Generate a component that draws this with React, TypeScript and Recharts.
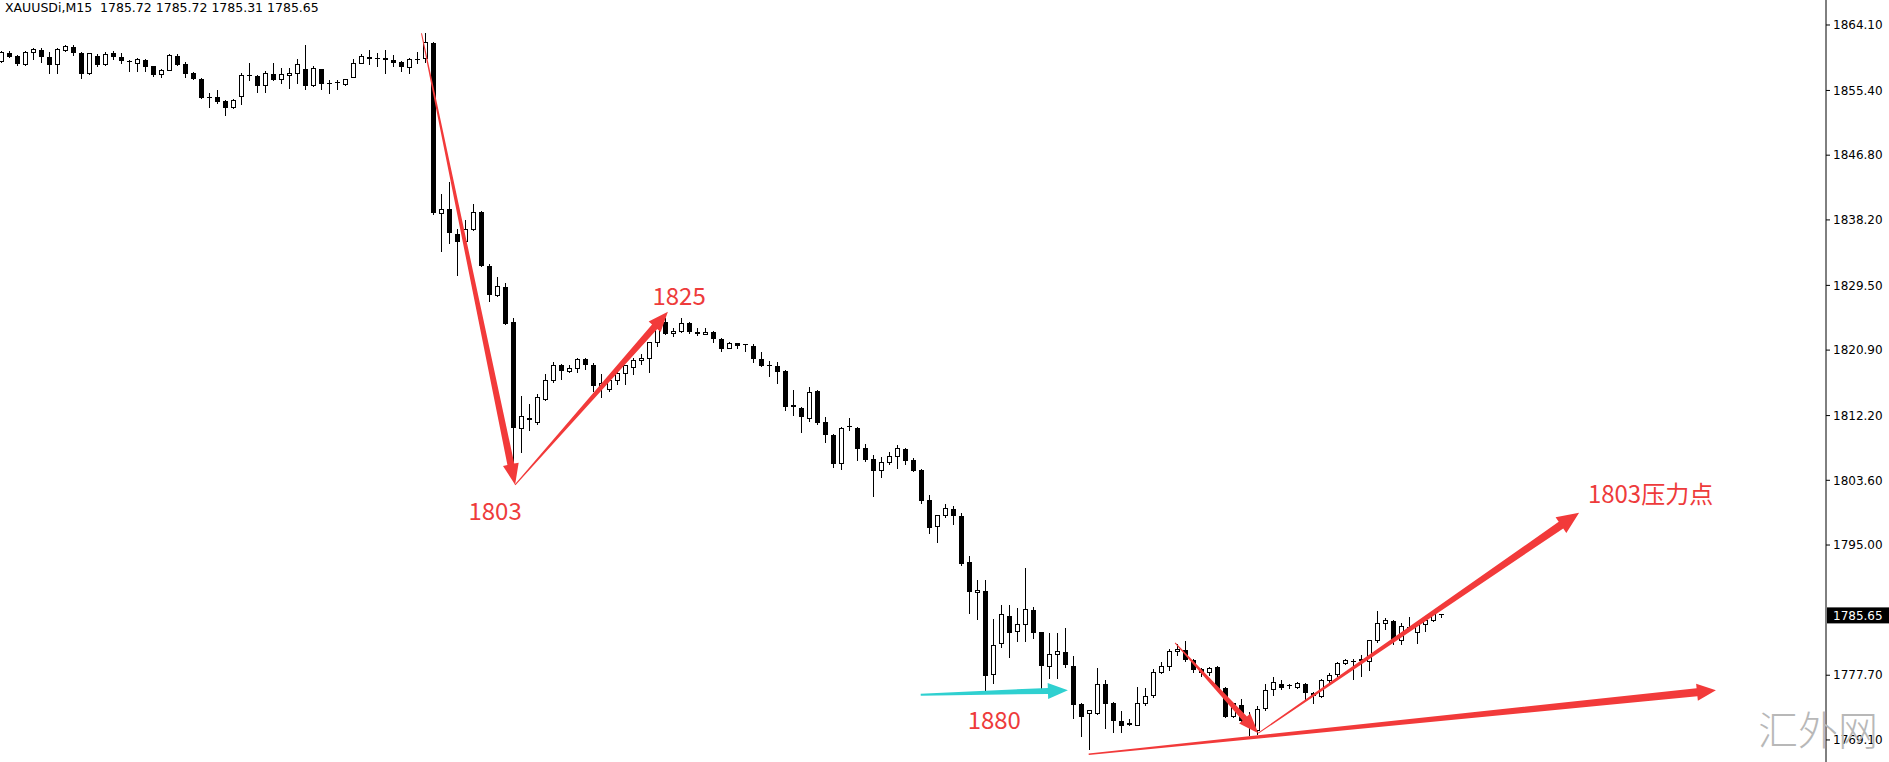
import { ComposedChart, Bar, XAxis, YAxis, ReferenceLine, ReferenceDot } from 'recharts';

// XAUUSDi M15 candles (one row = 10 bars)
const opens = [
  1859.2, 1860.4, 1860.0, 1858.9, 1860.4, 1860.8, 1859.9, 1858.8, 1860.7, 1861.2,
  1860.4, 1857.6, 1860.0, 1858.8, 1860.4, 1859.9, 1859.3, 1859.0, 1859.5, 1858.6,
  1857.5, 1858.1, 1860.0, 1858.9, 1857.7, 1856.9, 1854.4, 1854.5, 1854.0, 1853.1,
  1854.6, 1857.3, 1857.3, 1856.1, 1857.6, 1856.9, 1857.4, 1857.7, 1858.3, 1856.0,
  1858.2, 1856.3, 1856.3, 1856.2, 1857.1, 1859.0, 1859.6, 1859.5, 1859.7, 1859.5,
  1859.2, 1858.5, 1859.4, 1859.6, 1861.7, 1839.1, 1839.6, 1836.3, 1835.3, 1836.9,
  1839.2, 1832.1, 1828.2, 1829.3, 1824.7, 1810.5, 1811.9, 1811.3, 1814.4, 1816.9,
  1818.9, 1818.1, 1818.5, 1819.7, 1818.9, 1816.1, 1815.7, 1816.9, 1817.8, 1818.6,
  1819.5, 1819.8, 1821.9, 1824.7, 1823.1, 1823.4, 1824.5, 1823.3, 1823.0, 1823.3,
  1822.4, 1821.1, 1821.8, 1821.5, 1821.5, 1819.7, 1818.8, 1818.8, 1818.1, 1813.6,
  1813.2, 1811.8, 1815.4, 1811.3, 1809.6, 1805.8, 1810.6, 1810.5, 1807.9, 1806.4,
  1804.9, 1805.9, 1806.8, 1807.8, 1806.3, 1805.0, 1801.0, 1797.4, 1798.9, 1799.8,
  1798.9, 1792.7, 1788.7, 1788.9, 1777.8, 1781.9, 1785.6, 1783.5, 1784.5, 1786.4,
  1783.4, 1778.8, 1780.5, 1780.8, 1778.9, 1773.9, 1772.6, 1772.6, 1776.6, 1774.0,
  1771.6, 1771.1, 1771.0, 1774.0, 1775.0, 1778.0, 1778.9, 1780.8, 1781.1, 1779.7,
  1778.5, 1778.0, 1778.8, 1776.0, 1772.2, 1773.8, 1771.2, 1770.3, 1773.3, 1775.8,
  1776.6, 1776.2, 1776.1, 1776.5, 1775.4, 1774.9, 1777.0, 1777.8, 1779.2, 1779.4,
  1779.6, 1779.5, 1782.3, 1784.6, 1784.9, 1782.3, 1784.0, 1783.4, 1784.5, 1785.0, 1785.72,
];

const highs = [
  1860.6, 1860.6, 1860.1, 1860.6, 1861.0, 1861.0, 1860.5, 1861.0, 1861.5, 1861.4,
  1860.5, 1860.4, 1860.2, 1860.5, 1860.6, 1860.4, 1859.5, 1859.7, 1859.6, 1858.7,
  1858.2, 1860.2, 1860.2, 1859.2, 1857.8, 1857.0, 1855.0, 1855.4, 1854.1, 1854.3,
  1857.7, 1859.1, 1857.4, 1858.0, 1859.1, 1858.4, 1858.4, 1859.6, 1861.5, 1858.6,
  1858.3, 1856.8, 1856.8, 1856.9, 1859.6, 1860.2, 1860.8, 1860.4, 1860.8, 1860.1,
  1859.3, 1859.7, 1860.5, 1863.0, 1861.9, 1841.6, 1843.2, 1837.0, 1838.2, 1840.3,
  1839.4, 1832.3, 1830.6, 1829.8, 1825.1, 1814.8, 1813.8, 1815.1, 1817.7, 1819.3,
  1819.1, 1818.9, 1819.9, 1819.9, 1819.2, 1817.7, 1817.1, 1818.0, 1818.9, 1819.8,
  1820.4, 1822.0, 1825.0, 1825.1, 1823.8, 1825.1, 1824.7, 1823.8, 1823.9, 1823.5,
  1822.5, 1822.0, 1821.9, 1821.7, 1821.7, 1820.6, 1819.5, 1819.3, 1818.2, 1815.6,
  1813.3, 1816.0, 1815.6, 1812.0, 1809.7, 1810.7, 1811.9, 1810.7, 1808.4, 1807.0,
  1806.7, 1807.4, 1808.3, 1807.9, 1806.6, 1805.1, 1801.7, 1799.0, 1800.4, 1800.2,
  1799.3, 1793.6, 1790.4, 1790.3, 1785.2, 1787.0, 1787.0, 1786.6, 1791.9, 1786.8,
  1783.5, 1783.3, 1783.3, 1784.0, 1780.3, 1774.0, 1773.0, 1778.6, 1777.0, 1774.1,
  1773.0, 1771.9, 1776.1, 1776.0, 1778.5, 1779.5, 1781.2, 1781.9, 1782.3, 1779.8,
  1778.6, 1778.8, 1778.9, 1776.2, 1774.0, 1774.6, 1772.8, 1773.6, 1776.5, 1777.4,
  1777.0, 1776.5, 1776.8, 1776.7, 1775.5, 1777.2, 1778.0, 1779.5, 1779.8, 1779.9,
  1780.4, 1782.4, 1786.2, 1785.3, 1785.1, 1784.6, 1785.4, 1784.8, 1785.2, 1786.2, 1785.72,
];

const lows = [
  1859.0, 1859.7, 1858.7, 1858.7, 1859.5, 1859.0, 1857.6, 1857.6, 1860.5, 1860.0,
  1856.9, 1857.5, 1858.5, 1858.6, 1859.5, 1858.9, 1857.9, 1857.9, 1857.9, 1857.2,
  1857.0, 1858.0, 1858.6, 1857.0, 1856.8, 1854.2, 1853.1, 1853.6, 1852.0, 1853.0,
  1853.5, 1856.7, 1855.1, 1855.0, 1856.7, 1856.2, 1855.6, 1856.3, 1855.5, 1855.8,
  1855.5, 1854.9, 1855.4, 1856.0, 1857.0, 1858.9, 1858.8, 1858.5, 1857.6, 1858.5,
  1857.9, 1857.6, 1858.9, 1859.1, 1838.9, 1833.9, 1835.0, 1830.8, 1834.5, 1836.7,
  1832.0, 1827.3, 1828.0, 1824.2, 1805.2, 1807.2, 1810.1, 1811.0, 1814.2, 1816.5,
  1816.9, 1817.8, 1817.9, 1818.2, 1815.3, 1814.6, 1815.3, 1816.2, 1816.2, 1817.6,
  1818.9, 1817.8, 1821.3, 1822.9, 1822.6, 1823.2, 1823.0, 1822.8, 1822.9, 1821.9,
  1820.7, 1821.0, 1821.1, 1820.6, 1819.2, 1818.7, 1817.3, 1816.4, 1812.8, 1812.2,
  1809.9, 1811.4, 1810.9, 1808.5, 1805.2, 1805.0, 1810.1, 1806.2, 1806.0, 1801.4,
  1803.9, 1805.7, 1805.1, 1805.6, 1804.7, 1800.5, 1796.4, 1795.3, 1798.6, 1797.7,
  1792.2, 1785.9, 1785.1, 1775.5, 1776.5, 1781.3, 1780.0, 1782.1, 1782.1, 1782.5,
  1775.3, 1777.2, 1777.2, 1778.6, 1771.9, 1769.5, 1767.7, 1772.4, 1770.5, 1770.0,
  1770.0, 1770.9, 1770.9, 1773.6, 1774.7, 1777.9, 1778.3, 1780.3, 1779.5, 1778.0,
  1777.5, 1777.6, 1775.6, 1772.0, 1772.0, 1771.2, 1769.6, 1769.8, 1773.0, 1775.0,
  1775.8, 1775.9, 1775.9, 1774.4, 1773.9, 1774.7, 1776.4, 1777.4, 1779.0, 1777.0,
  1777.5, 1778.2, 1782.0, 1783.7, 1781.7, 1781.7, 1783.6, 1781.9, 1783.5, 1784.8, 1785.31,
];

const closes = [
  1860.4, 1859.9, 1858.9, 1860.4, 1860.8, 1859.8, 1858.8, 1860.8, 1861.2, 1860.4,
  1857.6, 1860.3, 1858.8, 1860.2, 1859.8, 1859.3, 1859.2, 1859.5, 1858.5, 1857.5,
  1858.1, 1860.0, 1858.8, 1857.6, 1856.9, 1854.4, 1854.5, 1853.9, 1853.1, 1854.1,
  1857.4, 1857.4, 1856.0, 1857.7, 1856.8, 1857.5, 1857.6, 1858.9, 1856.0, 1858.3,
  1856.2, 1856.3, 1856.4, 1856.8, 1859.0, 1859.9, 1859.8, 1859.6, 1859.5, 1859.0,
  1858.5, 1859.5, 1859.5, 1861.8, 1839.1, 1839.6, 1836.4, 1835.3, 1836.9, 1839.2,
  1832.1, 1828.2, 1829.3, 1824.4, 1810.5, 1812.1, 1811.6, 1814.6, 1816.9, 1818.9,
  1818.1, 1818.5, 1819.7, 1818.9, 1816.1, 1816.5, 1816.9, 1817.8, 1818.8, 1819.5,
  1819.8, 1821.9, 1824.4, 1823.1, 1823.4, 1824.4, 1823.3, 1823.0, 1823.3, 1822.4,
  1821.1, 1821.8, 1821.5, 1821.6, 1819.7, 1818.8, 1818.9, 1818.0, 1813.4, 1813.3,
  1812.0, 1815.3, 1811.2, 1809.6, 1805.8, 1810.5, 1810.7, 1807.7, 1806.3, 1804.8,
  1805.9, 1806.8, 1807.8, 1806.2, 1804.9, 1800.8, 1797.3, 1798.9, 1799.8, 1798.9,
  1792.5, 1788.7, 1789.0, 1777.6, 1781.7, 1785.8, 1783.3, 1784.5, 1786.4, 1783.3,
  1778.9, 1780.5, 1780.8, 1779.1, 1773.8, 1772.1, 1773.0, 1776.5, 1773.9, 1771.6,
  1771.0, 1771.3, 1774.0, 1774.9, 1778.0, 1778.9, 1780.8, 1781.1, 1779.7, 1778.4,
  1778.0, 1778.6, 1775.9, 1772.2, 1773.9, 1771.6, 1771.3, 1773.2, 1775.7, 1776.7,
  1776.0, 1776.3, 1776.6, 1775.4, 1774.9, 1777.0, 1777.7, 1779.2, 1779.6, 1779.5,
  1779.8, 1782.3, 1784.6, 1785.0, 1782.3, 1784.2, 1784.1, 1784.5, 1785.0, 1785.9, 1785.65,
];

const priceTicks = [1864.1, 1855.4, 1846.8, 1838.2, 1829.5, 1820.9, 1812.2, 1803.6, 1795.0, 1777.7, 1769.1];
const lastPrice = 1785.65;

// hand-drawn annotations, in (bar index, price)
const arrows = [
  { from: [52.5, 1863.0], to: [64.2, 1803.0], color: '#f23a3a', w0: 1, w1: 7, headW: 16, headL: 21 },
  { from: [64.2, 1803.0], to: [83.3, 1826.0], color: '#f23a3a', w0: 1, w1: 7, headW: 16, headL: 20 },
  { from: [114.9, 1775.1], to: [133.3, 1775.7], color: '#2fd0d0', w0: 2, w1: 6, headW: 16, headL: 20 },
  { from: [146.7, 1782.0], to: [157.1, 1770.0], color: '#f23a3a', w0: 1, w1: 6, headW: 15, headL: 20 },
  { from: [157.1, 1770.0], to: [197.2, 1799.3], color: '#f23a3a', w0: 1, w1: 8, headW: 19, headL: 22 },
  { from: [135.9, 1767.2], to: [214.3, 1775.7], color: '#f23a3a', w0: 1.5, w1: 8, headW: 17, headL: 19 },
];

const notes = [
  { i: 61.7, v: 1798.3, text: '1803', anchor: 'middle' },
  { i: 84.7, v: 1826.9, text: '1825', anchor: 'middle' },
  { i: 124.1, v: 1770.6, text: '1880', anchor: 'middle' },
  { i: 198.3, v: 1800.6, text: '1803压力点', anchor: 'start' },
];

const candles = opens.map((o, i) => ({
  i,
  open: o,
  high: highs[i],
  low: lows[i],
  close: closes[i],
}));

function Candle(props: any) {
  const { x, y, width, height, payload } = props;
  if (x == null || !payload) return null;
  const { open, close, high, low } = payload;
  const ppu = height / (high - low || 1);
  const py = (v: number) => y + (high - v) * ppu;
  const cx = Math.floor(x + width / 2) + 0.5;
  const top = py(Math.max(open, close));
  const bot = py(Math.min(open, close));
  const h = bot - top;
  const up = close >= open;
  return (
    <g shapeRendering="crispEdges">
      <line x1={cx} x2={cx} y1={y} y2={y + height} stroke="#000" strokeWidth={1} />
      {h < 1.5 ? (
        <line x1={cx - 2.5} x2={cx + 2.5} y1={top} y2={top} stroke="#000" strokeWidth={1} />
      ) : up ? (
        <rect x={cx - 2} y={top} width={4} height={h} fill="#fff" stroke="#000" strokeWidth={1} />
      ) : (
        <rect x={cx - 2.5} y={top} width={5} height={h} fill="#000" />
      )}
    </g>
  );
}

function arrowShape(color: string, w0: number, w1: number, headW: number, headL: number) {
  return (p: any) => {
    const { x1, y1, x2, y2 } = p;
    const len = Math.hypot(x2 - x1, y2 - y1) || 1;
    const ux = (x2 - x1) / len;
    const uy = (y2 - y1) / len;
    const nx = -uy;
    const ny = ux;
    const bx = x2 - ux * headL;
    const by = y2 - uy * headL;
    const pts = [
      [x1 + (nx * w0) / 2, y1 + (ny * w0) / 2],
      [bx + (nx * w1) / 2, by + (ny * w1) / 2],
      [bx + (nx * headW) / 2, by + (ny * headW) / 2],
      [x2, y2],
      [bx - (nx * headW) / 2, by - (ny * headW) / 2],
      [bx - (nx * w1) / 2, by - (ny * w1) / 2],
      [x1 - (nx * w0) / 2, y1 - (ny * w0) / 2],
    ];
    return <polygon points={pts.map((q) => q.join(',')).join(' ')} fill={color} />;
  };
}

export default function App() {
  return (
    <div style={{ position: 'absolute', left: 0, top: 0, width: 1889, height: 762, background: '#fff' }}>
      <ComposedChart
        width={1889}
        height={762}
        data={candles}
        margin={{ top: 0, right: 0, left: 0, bottom: 0 }}
      >
        <XAxis type="number" dataKey="i" domain={[-0.1875, 228.0625]} allowDataOverflow hide />
        <YAxis
          orientation="right"
          width={63}
          domain={[1766.17, 1867.42]}
          allowDataOverflow
          ticks={priceTicks}
          interval={0}
          tickFormatter={(v: number) => v.toFixed(2)}
          tick={{ fill: '#000', fontSize: 12, fontFamily: 'DejaVu Sans' }}
          tickSize={4}
          tickMargin={3}
          tickLine={{ stroke: '#000' }}
          axisLine={{ stroke: '#000' }}
        />
        <Bar
          dataKey={(d: any) => [d.low, d.high]}
          barSize={5}
          shape={Candle}
          isAnimationActive={false}
        />
        {arrows.map((a, k) => (
          <ReferenceLine
            key={'a' + k}
            segment={[
              { x: a.from[0], y: a.from[1] },
              { x: a.to[0], y: a.to[1] },
            ]}
            ifOverflow="visible"
            shape={arrowShape(a.color, a.w0, a.w1, a.headW, a.headL)}
          />
        ))}
        {notes.map((n, k) => (
          <ReferenceDot
            key={'n' + k}
            x={n.i}
            y={n.v}
            r={0}
            ifOverflow="visible"
            shape={(p: any) => (
              <text
                x={p.cx}
                y={p.cy}
                textAnchor={n.anchor}
                fill="#ee3b3b"
                fontSize={24}
                fontFamily="'Noto Sans CJK SC', 'Noto Sans', sans-serif"
              >
                {n.text}
              </text>
            )}
          />
        ))}
        <ReferenceDot
          x={228.0625}
          y={lastPrice}
          r={0}
          ifOverflow="visible"
          shape={(p: any) => (
            <g>
              <rect x={p.cx + 1} y={p.cy - 8} width={62} height={16} fill="#000" />
              <text
                x={p.cx + 7}
                y={p.cy}
                dy="0.36em"
                fill="#fff"
                fontSize={12}
                fontFamily="DejaVu Sans"
              >
                {lastPrice.toFixed(2)}
              </text>
            </g>
          )}
        />
      </ComposedChart>
      <div
        style={{
          position: 'absolute',
          left: 5,
          top: 2,
          fontFamily: 'DejaVu Sans',
          fontSize: 12.5,
          lineHeight: '12px',
          color: '#000',
          whiteSpace: 'pre',
        }}
      >
        {'XAUUSDi,M15  1785.72 1785.72 1785.31 1785.65'}
      </div>
      <div
        style={{
          position: 'absolute',
          left: 1758,
          top: 704,
          fontFamily: "'Noto Sans CJK SC', sans-serif",
          fontWeight: 300,
          fontSize: 40,
          lineHeight: '48px',
          color: '#b8b8b8',
          pointerEvents: 'none',
        }}
      >
        汇外网
      </div>
    </div>
  );
}
